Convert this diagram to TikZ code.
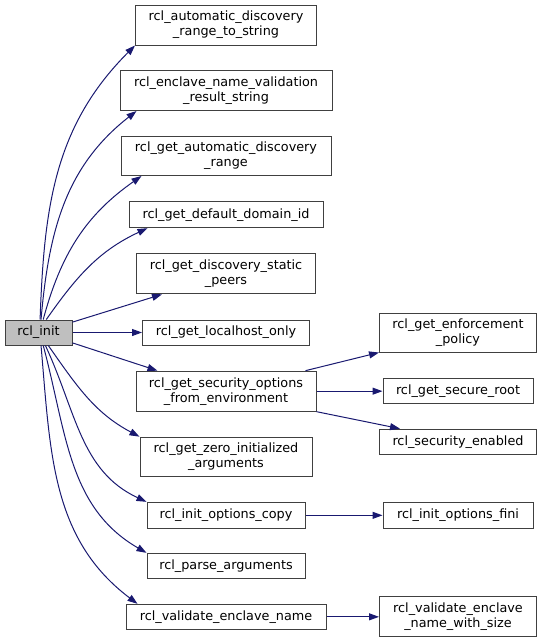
\documentclass[tikz,border=0pt]{standalone}
\usepackage{fontspec}
\setmainfont{DejaVu Sans}
\usetikzlibrary{arrows.meta,calc}
\definecolor{edgeblue}{RGB}{25,25,112}
\definecolor{boxline}{RGB}{64,64,64}
\definecolor{rootfill}{RGB}{191,191,191}
\tikzstyle{func} = [rectangle, draw=boxline, line width=0.75pt, fill=white, inner sep=1pt, align=center, font=\fontsize{9.6}{11.25}\selectfont, minimum height=18.75pt]
\tikzstyle{func2} = [func, minimum height=30pt]
\tikzstyle{root} = [func, fill=rootfill]
\tikzstyle{arrow} = [line width=0.75pt, draw=edgeblue, -{Triangle[length=7.5pt,width=5.25pt]}]

\begin{document}
\begin{tikzpicture}[node distance = 44pt, x=0.75pt, y=-0.75pt]
	\useasboundingbox (0,0) rectangle (541,643);
	\node (init) [root, minimum width=50.25pt] at (38.5,332.5) {rcl\_init};
	\node (localhost) [func, minimum width=125.25pt, right of = init, xshift = 96.625pt]{rcl\_get\_localhost\_only};
	\node (peers) [func2, minimum width=134.25pt, above of = localhost]{rcl\_get\_discovery\_static\\\_peers};
	\node (domain) [func, minimum width=145.5pt, minimum height=19.5pt, above of = peers, yshift = 0.375pt]{rcl\_get\_default\_domain\_id};
	\node (range) [func2, minimum width=157.5pt, minimum height=29.25pt, above of = domain]{rcl\_get\_automatic\_discovery\\\_range};
	\node (result) [func2, minimum width=159pt, above of = range, yshift = 5.125pt]{rcl\_enclave\_name\_validation\\\_result\_string};
	\node (tostring) [func2, minimum width=135.75pt, above of = result, yshift = 5.125pt]{rcl\_automatic\_discovery\\\_range\_to\_string};
	\node (security) [func2, minimum width=135pt, below of = localhost]{rcl\_get\_security\_options\\\_from\_environment};
	\node (zeroargs) [func2, minimum width=129pt, minimum height=29.25pt, below of = security, yshift = -5.125pt]{rcl\_get\_zero\_initialized\\\_arguments};
	\node (optcopy) [func, minimum width=118.5pt, minimum height=19.5pt, below of = zeroargs]{rcl\_init\_options\_copy};
	\node (parse) [func, minimum width=118.5pt, below of = optcopy, yshift = 6.125pt]{rcl\_parse\_arguments};
	\node (validate) [func, minimum width=150pt, below of = parse, yshift = 5.75pt]{rcl\_validate\_enclave\_name};
	\node (enforce) [func2, minimum width=117.75pt, minimum height=29.25pt, right of = localhost, xshift = 130pt]{rcl\_get\_enforcement\\\_policy};
	\node (secroot) [func, minimum width=112.5pt, right of = security, xshift = 130pt]{rcl\_get\_secure\_root};
	\node (secenabled) [func, minimum width=117.75pt, below of = secroot, yshift = 6.125pt]{rcl\_security\_enabled};
	\node (optfini) [func, minimum width=112.5pt, minimum height=19.5pt, right of = optcopy, xshift = 130pt]{rcl\_init\_options\_fini};
	\node (validsize) [func2, minimum width=117.75pt, right of = validate, xshift = 130pt]{rcl\_validate\_enclave\\\_name\_with\_size};
	
	\draw [arrow] (init.83) to[out=88, in=225] (tostring.south west);
	\draw [arrow] (init.79) to[out=85, in=218] ($(result.south west)+(17,0)$);
	\draw [arrow] (init.70) to[out=75, in=215] ($(range.south west)+(21,0)$);
	\draw [arrow] (init.59) to[out=55, in=205] ($(domain.south west)+(19,0)$);
	\draw [arrow] (init.17) -- ($(peers.south west)+(26,0)$);
	\draw [arrow] (init) -- (localhost);
	\draw [arrow] (init.-17) -- ($(security.north west)+(22,0)$);
	\draw [arrow] (init.-53) to[out=-55, in=152] (zeroargs.north west);
	\draw [arrow] (init.-62) to[out=-65, in=155] (optcopy.north west);
	\draw [arrow] (init.-70) to[out=-75, in=150] (parse.north west);
	\draw [arrow] (init.-79) to[out=-85, in=143] ($(validate.north west)+(12,0)$);
	\draw [arrow] ($(security.north east)+(-11,0)$) -- (enforce.south west);
	\draw [arrow] (security) -- (secroot);
	\draw [arrow] (security.south east) -- ($(secenabled.north west)+(21,0)$);
	\draw [arrow] (optcopy) -- (optfini);
	\draw [arrow] (validate) -- (validsize);
\end{tikzpicture}
\end{document}
